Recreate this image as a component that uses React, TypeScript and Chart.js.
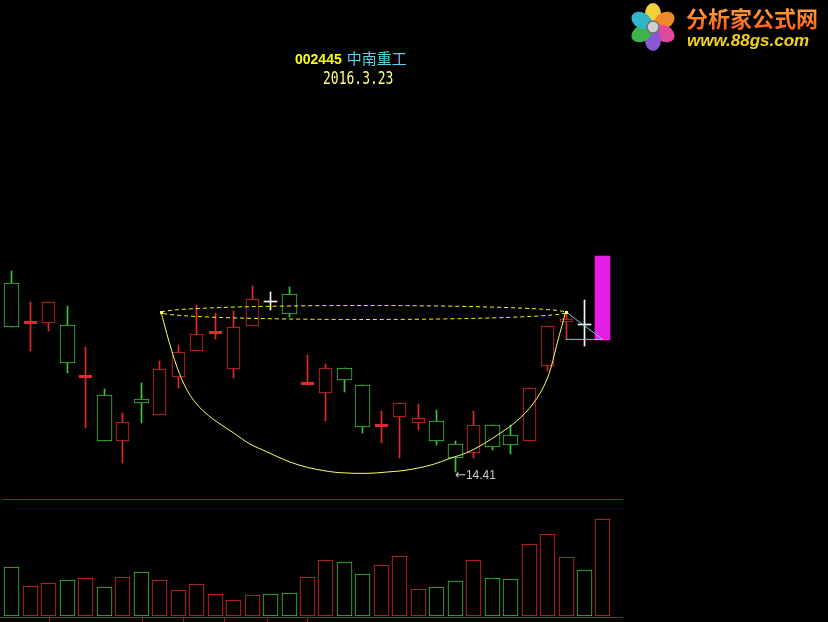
import React, { useEffect, useRef } from "react";
import { Chart, registerables } from "chart.js";

Chart.register(...registerables);

// ---------------- data ----------------
const CODE = "002445";
const NAME = "中南重工";
const DATE = "2016.3.23";
const LOGO_CN = "分析家公式网";
const LOGO_URL = "www.88gs.com";

const OPEN = [20.06, 18.83, 18.88, 18.81, 17.23, 16.71, 15.34, 16.58, 16.11, 17.26, 18.04, 18.53, 17.48, 18.79, 19.51, 19.73, 17.01, 16.76, 17.51, 17.0, 15.76, 16.06, 15.86, 15.92, 15.23, 14.98, 15.8, 15.5, 15.34, 17.58, 18.91, 18.81, 18.36];
const HIGH = [20.43, 19.51, 19.49, 19.39, 18.16, 16.89, 16.16, 17.08, 17.73, 18.21, 19.41, 19.16, 19.24, 19.99, 19.81, 19.96, 17.91, 17.64, 17.51, 17.0, 16.23, 16.46, 16.44, 16.26, 15.34, 16.24, 15.8, 15.81, 16.91, 18.78, 19.16, 19.56, 20.88];
const LOW = [18.76, 18.04, 18.64, 17.38, 15.73, 15.34, 14.68, 15.88, 16.11, 16.91, 18.04, 18.38, 17.21, 18.79, 19.26, 19.04, 17.01, 15.94, 16.81, 15.58, 15.26, 14.83, 15.66, 15.21, 14.41, 14.81, 15.06, 14.93, 15.34, 17.44, 18.38, 18.18, 18.36];
const CLOSE = [18.76, 18.89, 19.49, 17.68, 17.29, 15.34, 15.89, 16.48, 17.49, 17.99, 18.54, 18.59, 18.74, 19.58, 19.51, 19.13, 17.07, 17.51, 17.15, 15.74, 15.82, 16.46, 16.01, 15.34, 14.81, 15.8, 15.14, 15.2, 16.91, 18.78, 18.98, 18.81, 20.88];
const VOLUME = [48.7, 29.7, 33.0, 36.0, 37.7, 28.7, 38.7, 43.7, 36.0, 26.0, 31.7, 21.7, 15.7, 20.7, 21.7, 22.7, 38.7, 55.7, 53.7, 41.7, 50.7, 59.7, 26.7, 28.7, 35.0, 55.7, 37.7, 36.7, 71.7, 81.7, 58.7, 45.7, 96.7];
const SIGNAL_BARS = [32];
const LOW_LABEL_BAR = 24;

// cup curve (bar index, price)
const CUP_X = [8.068, 8.376, 8.934, 9.475, 10.179, 11.083, 11.982, 12.886, 13.791, 14.69, 15.594, 16.498, 17.759, 19.205, 20.288, 21.279, 22.811, 23.715, 24.62, 25.519, 26.423, 27.327, 28.226, 28.951, 29.222, 29.493, 29.763, 29.98];
const CUP_Y = [19.21, 18.56, 17.55, 16.86, 16.33, 15.91, 15.58, 15.24, 15.01, 14.78, 14.6, 14.48, 14.38, 14.36, 14.4, 14.45, 14.63, 14.81, 14.98, 15.24, 15.56, 15.93, 16.46, 17.16, 17.61, 18.21, 18.76, 19.21];
// cup rim (ellipse)
const RIM_LEFT = 8.068;
const RIM_RIGHT = 29.98;
const RIM_MID = 19.215;
const RIM_HALF = 0.2;
// cyan triangle
const TRI_X = [29.98, 31.98, 29.98];
const TRI_Y = [19.21, 18.38, 18.38];
// bottom axis ticks (bar index)
const TICK_X = [2.0, 7.04, 9.26, 11.48, 13.81, 15.97];

// ---------------- styling / scale ranges ----------------
const X_MIN = -0.4873;
const X_MAX = 33.083;
const PRICE_MIN = 10.081;
const PRICE_MAX = 28.561;
const VOL_MAX = 616;
const CROSS_BODY = 0.065; // bodies thinner than this are drawn as solid "cross" bars

const RED = "#e02a2a";
const GREEN = "#3cc43c";
const WHITE = "#f4f4f4";
const MAGENTA = "#e41ee4";
const AXIS_RED = "#a81c1c";

type Kind = "up" | "down" | "flat" | "signal";
const KINDS: Kind[] = OPEN.map((o, i) =>
  SIGNAL_BARS.includes(i) ? "signal" : CLOSE[i] > o ? "up" : CLOSE[i] < o ? "down" : "flat"
);
const kindColor = (k: Kind) => (k === "up" ? RED : k === "down" ? GREEN : k === "flat" ? WHITE : MAGENTA);
const volColor = (k: Kind) => (k === "down" || k === "flat" ? GREEN : RED);

const idx = OPEN.map((_, i) => i);

// snap bar elements to whole pixels so the thin outlines stay crisp
const snapPlugin = {
  id: "snap",
  beforeDatasetsDraw(chart: any) {
    chart.data.datasets.forEach((ds: any, di: number) => {
      if (ds.type !== "bar") return;
      const meta = chart.getDatasetMeta(di);
      meta.data.forEach((el: any) => {
        el.x = Math.floor(el.x) + 0.5;
        el.y = Math.round(el.y);
        el.base = Math.round(el.base);
      });
    });
  },
};

const decorPlugin = {
  id: "decor",
  afterDatasetsDraw(chart: any) {
    const { ctx, scales } = chart;
    const x = scales.x;
    const yP = scales.yP;
    ctx.save();
    const l = x.getPixelForValue(RIM_LEFT);
    const r = x.getPixelForValue(RIM_RIGHT);
    const cy = Math.round(yP.getPixelForValue(RIM_MID)) + 0.5;
    const ry = Math.round(yP.getPixelForValue(RIM_MID - RIM_HALF) - yP.getPixelForValue(RIM_MID));
    ctx.strokeStyle = "#ffff00";
    ctx.lineWidth = 1;
    ctx.setLineDash([4, 3]);
    ctx.beginPath();
    ctx.ellipse((l + r) / 2, cy, (r - l) / 2, ry, 0, 0, Math.PI * 2);
    ctx.stroke();
    ctx.setLineDash([]);
    ctx.fillStyle = "#ffff40";
    [0, CUP_X.length - 1].forEach((j) => {
      const px = Math.round(x.getPixelForValue(CUP_X[j]));
      const py = Math.round(yP.getPixelForValue(CUP_Y[j]));
      ctx.fillRect(px - 1, py - 1, 3, 3);
    });
    const lx = Math.round(x.getPixelForValue(LOW_LABEL_BAR));
    const ly = Math.round(yP.getPixelForValue(LOW[LOW_LABEL_BAR])) + 4;
    ctx.fillStyle = "#c8c8c8";
    ctx.textBaseline = "middle";
    ctx.textAlign = "left";
    ctx.font = '13px "DejaVu Sans", sans-serif';
    ctx.fillText("←", lx, ly);
    const aw = ctx.measureText("←").width;
    ctx.font = '12px "Liberation Sans", Arial, sans-serif';
    ctx.fillText(LOW[LOW_LABEL_BAR].toFixed(2), lx + aw, ly);
    ctx.restore();
  },
  afterDraw(chart: any) {
    const { ctx, scales, chartArea } = chart;
    const x = scales.x;
    ctx.save();
    ctx.strokeStyle = AXIS_RED;
    ctx.lineWidth = 1;
    ctx.beginPath();
    ctx.moveTo(3, 499.5);
    ctx.lineTo(chartArea.right, 499.5);
    ctx.moveTo(0, 617.5);
    ctx.lineTo(chartArea.right, 617.5);
    ctx.stroke();
    ctx.strokeStyle = "#0c0c2c";
    ctx.beginPath();
    ctx.moveTo(16, 508.5);
    ctx.lineTo(chartArea.right, 508.5);
    ctx.stroke();
    ctx.strokeStyle = AXIS_RED;
    ctx.beginPath();
    TICK_X.forEach((t) => {
      const px = Math.round(x.getPixelForValue(t)) + 0.5;
      ctx.moveTo(px, 618);
      ctx.lineTo(px, 622);
    });
    ctx.stroke();
    ctx.restore();
  },
};

function buildConfig(): any {
  const upIdx = idx.filter((i) => KINDS[i] === "up");
  const wick = {
    type: "bar",
    yAxisID: "yP",
    data: idx.map((i) => ({ x: i, y: [LOW[i], HIGH[i]] })),
    backgroundColor: idx.map((i) => kindColor(KINDS[i])),
    borderWidth: 0,
    barThickness: 1,
    order: 10,
  };
  const upBody = {
    type: "bar",
    yAxisID: "yP",
    data: upIdx.map((i) => ({ x: i, y: [OPEN[i], CLOSE[i]] })),
    backgroundColor: upIdx.map((i) => (CLOSE[i] - OPEN[i] < CROSS_BODY ? RED : "#000")),
    borderColor: RED,
    borderWidth: 1,
    borderSkipped: false,
    barThickness: 13,
    minBarLength: 3,
    order: 5,
  };
  const downBody = {
    type: "bar",
    yAxisID: "yP",
    data: idx.filter((i) => KINDS[i] === "down").map((i) => ({ x: i, y: [CLOSE[i], OPEN[i]] })),
    backgroundColor: "#000",
    borderColor: GREEN,
    borderWidth: 1,
    borderSkipped: false,
    barThickness: 15,
    order: 5,
  };
  const flatBody = {
    type: "bar",
    yAxisID: "yP",
    data: idx.filter((i) => KINDS[i] === "flat").map((i) => ({ x: i, y: [OPEN[i], CLOSE[i]] })),
    backgroundColor: WHITE,
    borderWidth: 0,
    barThickness: 13,
    minBarLength: 1,
    order: 5,
  };
  const signalBody = {
    type: "bar",
    yAxisID: "yP",
    data: idx.filter((i) => KINDS[i] === "signal").map((i) => ({ x: i, y: [OPEN[i], CLOSE[i]] })),
    backgroundColor: MAGENTA,
    borderWidth: 0,
    barThickness: 15,
    order: 5,
  };
  const volume = {
    type: "bar",
    yAxisID: "yV",
    data: idx.map((i) => ({ x: i, y: VOLUME[i] })),
    backgroundColor: "#000",
    borderColor: idx.map((i) => volColor(KINDS[i])),
    borderWidth: 1,
    borderSkipped: false,
    barThickness: 15,
    order: 5,
  };
  const cup = {
    type: "line",
    yAxisID: "yP",
    data: CUP_X.map((v, j) => ({ x: v, y: CUP_Y[j] })),
    borderColor: "#ffff5a",
    borderWidth: 1,
    pointRadius: 0,
    cubicInterpolationMode: "monotone",
    fill: false,
    order: 1,
  };
  const tri = {
    type: "line",
    yAxisID: "yP",
    data: TRI_X.map((v, j) => ({ x: v, y: TRI_Y[j] })),
    borderColor: "#60d4e4",
    borderWidth: 1,
    pointRadius: 0,
    tension: 0,
    fill: false,
    order: 1,
  };
  return {
    type: "bar",
    data: { datasets: [wick, upBody, downBody, flatBody, signalBody, volume, cup, tri] },
    options: {
      responsive: false,
      animation: false,
      devicePixelRatio: 1,
      events: [],
      layout: { padding: { left: 3, right: 205, top: 0, bottom: 6 } },
      plugins: { legend: { display: false }, tooltip: { enabled: false }, title: { display: false } },
      datasets: { bar: { grouped: false } },
      scales: {
        x: { type: "linear", display: false, offset: false, grid: { offset: false }, min: X_MIN, max: X_MAX },
        yP: { type: "linear", display: false, min: PRICE_MIN, max: PRICE_MAX },
        yV: { type: "linear", display: false, min: 0, max: VOL_MAX },
      },
    },
    plugins: [snapPlugin, decorPlugin],
  };
}

const PETALS = [
  { a: -90, c: "#f2d43a" },
  { a: -30, c: "#f08a2a" },
  { a: 30, c: "#e0489c" },
  { a: 90, c: "#8a58d2" },
  { a: 150, c: "#3cb44c" },
  { a: 210, c: "#34b4c8" },
];

export default function App() {
  const ref = useRef<HTMLCanvasElement>(null);
  useEffect(() => {
    const chart = new Chart(ref.current as HTMLCanvasElement, buildConfig());
    return () => chart.destroy();
  }, []);
  return (
    <div style={{ position: "fixed", left: 0, top: 0, width: 828, height: 622, background: "#000", overflow: "hidden" }}>
      <canvas ref={ref} width={828} height={622} style={{ position: "absolute", left: 0, top: 0, width: 828, height: 622 }} />
      <div style={{ position: "absolute", left: 295, top: 47, whiteSpace: "nowrap", lineHeight: "18px" }}>
        <span style={{ color: "#ffff00", font: 'bold 14px "Liberation Sans", Arial, sans-serif' }}>{CODE}</span>
        <span style={{ color: "#4fd8e6", font: '15px "Noto Sans CJK SC", sans-serif', marginLeft: 5 }}>{NAME}</span>
      </div>
      <div
        style={{
          position: "absolute",
          left: 323,
          top: 70,
          whiteSpace: "nowrap",
          color: "#ffff78",
          font: '13px "DejaVu Sans Mono", monospace',
          lineHeight: "13px",
          transform: "scaleY(1.3)",
          transformOrigin: "left top",
        }}
      >
        {DATE}
      </div>
      <svg width={56} height={56} style={{ position: "absolute", left: 625, top: -1 }}>
        {PETALS.map((p, j) => (
          <ellipse key={j} cx={28} cy={15} rx={8} ry={11} fill={p.c} transform={`rotate(${p.a + 90} 28 28)`} />
        ))}
        <circle cx={28} cy={28} r={6} fill="#cfcfcf" stroke="#707070" strokeWidth={1.5} />
      </svg>
      <div
        style={{
          position: "absolute",
          left: 686,
          top: 4,
          whiteSpace: "nowrap",
          font: 'bold 22px "Noto Sans CJK SC", sans-serif',
          lineHeight: "26px",
          backgroundImage: "linear-gradient(#ffb04a, #ff5c12)",
          WebkitBackgroundClip: "text",
          backgroundClip: "text",
          color: "transparent",
        }}
      >
        {LOGO_CN}
      </div>
      <div
        style={{
          position: "absolute",
          left: 687,
          top: 31,
          whiteSpace: "nowrap",
          font: 'italic bold 17px "Liberation Sans", Arial, sans-serif',
          lineHeight: "20px",
          color: "#f2d21c",
        }}
      >
        {LOGO_URL}
      </div>
    </div>
  );
}
